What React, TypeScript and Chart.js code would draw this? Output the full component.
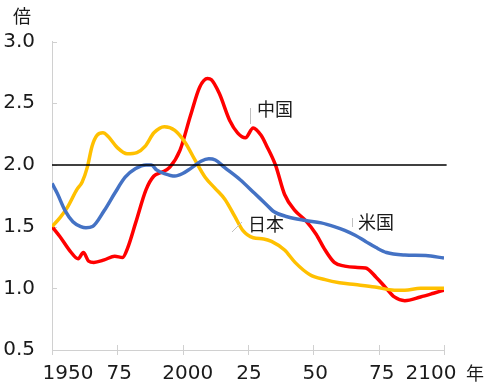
import React, { useEffect, useRef } from "react";
import { Chart, registerables } from "chart.js";

Chart.register(...registerables);

// ---- data ----
const chinaYears = [1950, 1953, 1957, 1960, 1962, 1964, 1966, 1970, 1974, 1977, 1979, 1982, 1986, 1989, 1992, 1995, 1999, 2003, 2006.5, 2009.5, 2011, 2014, 2018, 2021, 2024, 2027, 2030, 2032, 2035.5, 2039, 2043, 2047, 2051, 2054.5, 2058, 2062, 2066, 2070, 2074, 2077.5, 2081, 2085, 2091, 2096, 2100];
const chinaValues = [1.5, 1.42, 1.3, 1.24, 1.29, 1.22, 1.21, 1.23, 1.26, 1.25, 1.33, 1.53, 1.8, 1.91, 1.94, 1.98, 2.12, 2.4, 2.63, 2.7, 2.69, 2.58, 2.36, 2.26, 2.22, 2.3, 2.24, 2.16, 2.0, 1.76, 1.63, 1.55, 1.44, 1.31, 1.21, 1.18, 1.17, 1.165, 1.09, 1.01, 0.93, 0.9, 0.93, 0.96, 0.985];

const usYears = [1950, 1952, 1955, 1958, 1961, 1963, 1965.5, 1970, 1974, 1978, 1982, 1986, 1988, 1990, 1993, 1997, 2000, 2003, 2007, 2010, 2012.5, 2016, 2022, 2027.5, 2031.5, 2035, 2040, 2047, 2053, 2058, 2062, 2066, 2070, 2074, 2078, 2085, 2093, 2100];
const usValues = [1.85, 1.77, 1.63, 1.54, 1.5, 1.49, 1.5, 1.63, 1.77, 1.9, 1.97, 2.0, 2.0, 1.96, 1.93, 1.91, 1.93, 1.97, 2.03, 2.05, 2.04, 1.98, 1.88, 1.77, 1.69, 1.62, 1.58, 1.55, 1.53, 1.5, 1.47, 1.43, 1.38, 1.33, 1.29, 1.27, 1.265, 1.245];

const japanYears = [1950, 1953, 1956, 1959.5, 1961.5, 1963.5, 1965.3, 1967.2, 1969.5, 1971.5, 1975, 1978.7, 1982.5, 1985.6, 1989, 1993, 1997, 2001, 2004.7, 2008.6, 2012.4, 2016.2, 2020, 2023, 2027, 2031, 2034, 2039, 2043, 2048.7, 2054.5, 2060, 2066, 2073.6, 2081, 2085, 2091, 2100];
const japanValues = [1.5, 1.57, 1.66, 1.8, 1.86, 1.98, 2.15, 2.24, 2.26, 2.23, 2.14, 2.09, 2.1, 2.15, 2.26, 2.31, 2.28, 2.18, 2.04, 1.9, 1.81, 1.72, 1.58, 1.47, 1.41, 1.4, 1.38, 1.31, 1.21, 1.11, 1.07, 1.045, 1.03, 1.01, 0.985, 0.985, 1.0, 1.0];

const refYears = [1950, 2101];
const refValues = [2.0, 2.0];

const xTickYears = [1950, 1975, 2000, 2025, 2050, 2075, 2100];
const xTickLabels = ["1950", "75", "2000", "25", "50", "75", "2100"];
const yTicks = [0.5, 1.0, 1.5, 2.0, 2.5, 3.0];

const seriesNames = { china: "中国", japan: "日本", us: "米国" };
const yUnit = "倍";
const xUnit = "年";

// ---- styling ----
const xLabelOffsets = [16, 2, 5, 1, 2, 3, -13];
const NUM_FONT = "20px 'DejaVu Sans'";
const CJK_FONT = "18px 'Noto Sans CJK JP'";
const AXIS_COLOR = "#d0d0d0";

const toPoints = (xs: number[], ys: number[]) => xs.map((x, i) => ({ x, y: ys[i] }));

const overlay = {
  id: "overlay",
  beforeDatasetsDraw(chart: any) {
    const ctx = chart.ctx;
    const xs = chart.scales.x;
    const ys = chart.scales.y;
    const area = chart.chartArea;
    ctx.save();
    ctx.strokeStyle = AXIS_COLOR;
    ctx.lineWidth = 1;
    xTickYears.forEach((yr) => {
      const px = Math.round(xs.getPixelForValue(yr)) + 0.5;
      ctx.beginPath();
      ctx.moveTo(px, area.bottom - 5);
      ctx.lineTo(px, area.bottom + 5);
      ctx.stroke();
    });
    yTicks.forEach((v) => {
      const py = Math.round(ys.getPixelForValue(v)) + 0.5;
      ctx.beginPath();
      ctx.moveTo(area.left, py);
      ctx.lineTo(area.left + 5, py);
      ctx.stroke();
    });
    ctx.restore();
  },
  afterDraw(chart: any) {
    const ctx = chart.ctx;
    const xs = chart.scales.x;
    const area = chart.chartArea;
    ctx.save();
    ctx.fillStyle = "#1a1a1a";
    ctx.font = NUM_FONT;
    ctx.textAlign = "center";
    ctx.textBaseline = "middle";
    xTickYears.forEach((yr, i) => {
      const px = xs.getPixelForValue(yr) + xLabelOffsets[i];
      ctx.fillText(xTickLabels[i], px, area.bottom + 24);
    });
    ctx.font = CJK_FONT;
    ctx.fillText(xUnit, area.right + 31, area.bottom + 23);
    ctx.fillText(yUnit, 22, 16);
    ctx.fillText(seriesNames.china, 275, 109);
    ctx.fillText(seriesNames.japan, 266, 224);
    ctx.fillText(seriesNames.us, 376, 222);
    ctx.strokeStyle = "#bfbfbf";
    ctx.lineWidth = 1;
    ctx.beginPath();
    ctx.moveTo(250.5, 108);
    ctx.lineTo(250.5, 124);
    ctx.moveTo(242, 222);
    ctx.lineTo(232, 232);
    ctx.moveTo(352.5, 218);
    ctx.lineTo(352.5, 227);
    ctx.stroke();
    ctx.restore();
  },
};

export default function App() {
  const ref = useRef<HTMLCanvasElement>(null);
  useEffect(() => {
    if (!ref.current) return;
    const chart = new Chart(ref.current, {
      type: "line",
      data: {
        datasets: [
          {
            label: "ref",
            data: toPoints(refYears, refValues),
            borderColor: "#000000",
            borderWidth: 1.5,
            pointRadius: 0,
            clip: false,
            tension: 0,
          } as any,
          {
            label: seriesNames.us,
            data: toPoints(usYears, usValues),
            borderColor: "#4472C4",
            borderWidth: 3.5,
            pointRadius: 0,
            cubicInterpolationMode: "monotone",
          },
          {
            label: seriesNames.japan,
            data: toPoints(japanYears, japanValues),
            borderColor: "#FFC000",
            borderWidth: 3.5,
            pointRadius: 0,
            cubicInterpolationMode: "monotone",
          },
          {
            label: seriesNames.china,
            data: toPoints(chinaYears, chinaValues),
            borderColor: "#FF0000",
            borderWidth: 3.5,
            pointRadius: 0,
            cubicInterpolationMode: "monotone",
          },
        ],
      },
      options: {
        animation: false,
        responsive: false,
        layout: { padding: { top: 41.5, right: 56, bottom: 0, left: 0 } },
        plugins: { legend: { display: false }, tooltip: { enabled: false } },
        scales: {
          x: {
            type: "linear",
            min: 1950,
            max: 2100,
            ticks: { display: false },
            grid: { display: false },
            border: { color: AXIS_COLOR, width: 1 },
            afterFit: (s: any) => {
              s.height = 42;
            },
          },
          y: {
            min: 0.5,
            max: 3.0,
            ticks: {
              stepSize: 0.5,
              padding: 17,
              color: "#1a1a1a",
              font: { family: "'DejaVu Sans'", size: 20 },
              callback: (v: any) => Number(v).toFixed(1),
            },
            grid: { display: false, drawTicks: false },
            border: { color: AXIS_COLOR, width: 1 },
            afterFit: (s: any) => {
              s.width = 52;
            },
          },
        },
      },
      plugins: [overlay],
    });
    return () => chart.destroy();
  }, []);
  return (
    <div style={{ position: "fixed", left: 0, top: 0, width: 500, height: 392, background: "#fff" }}>
      <canvas ref={ref} width={500} height={392} style={{ display: "block", width: 500, height: 392 }} />
    </div>
  );
}
